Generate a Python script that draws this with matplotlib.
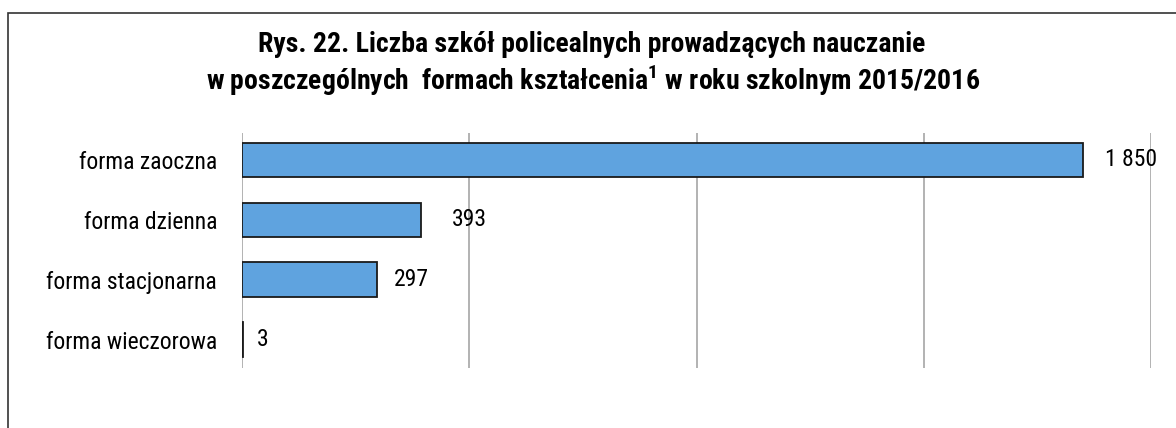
import matplotlib
matplotlib.use('Agg')
import matplotlib.pyplot as plt
from matplotlib.patches import Rectangle

# data
categories = ['forma zaoczna', 'forma dzienna', 'forma stacjonarna', 'forma wieczorowa']
values = [1850, 393, 297, 3]
value_labels = ['1 850', '393', '297', '3']
label_gap_px = [22, 31, 17, 14]

title_line1 = 'Rys. 22. Liczba szkół policealnych prowadzących nauczanie'
title_line2 = r'w poszczególnych  formach kształcenia$^{\mathbf{1}}$ w roku szkolnym 2015/2016'

font_list = ['Roboto Condensed', 'Liberation Sans', 'DejaVu Sans']
plt.rcParams['font.family'] = font_list
plt.rcParams['mathtext.fontset'] = 'custom'
plt.rcParams['mathtext.rm'] = 'Roboto Condensed'
plt.rcParams['mathtext.bf'] = 'Roboto Condensed:bold'

fig = plt.figure(figsize=(11.76, 4.28), dpi=100)
ax = fig.add_axes([242 / 1176, 1 - 368 / 428, (1151 - 242) / 1176, (368 - 133) / 428])

# outer frame (only left and top edges visible in the reference)
fig.patches.append(Rectangle((8 / 1176, -0.5), 1.5, 1.5 - 13 / 428,
                             transform=fig.transFigure, fill=False,
                             edgecolor='#333333', linewidth=1.2))

ypos = list(range(len(categories)))
ax.barh(ypos, values, height=0.58, color='#5fa3df', edgecolor='#1a1a1a',
        linewidth=1.3, zorder=3)

ax.set_xlim(0, 2000)
ax.set_ylim(3.47, -0.45)
ax.set_xticks([0, 500, 1000, 1500, 2000])
ax.xaxis.grid(True, color='#a6a6a6', linewidth=1.2, zorder=0)
ax.tick_params(axis='x', length=0, labelbottom=False)
ax.tick_params(axis='y', length=0, pad=18)
ax.set_yticks(ypos)
ax.set_yticklabels(categories, fontsize=17)
for s in ax.spines.values():
    s.set_visible(False)

for y, v, lab, gap in zip(ypos, values, value_labels, label_gap_px):
    ax.annotate(lab, (v, y), xytext=(gap * 0.72, 0), textcoords='offset points',
                va='center', ha='left', fontsize=17, zorder=4)

fig.text(0.503, 1 - 45 / 428, title_line1, ha='center', va='center',
         fontsize=20, fontweight='bold')
fig.text(0.504, 1 - 80 / 428, title_line2, ha='center', va='center',
         fontsize=20, fontweight='bold')

fig.savefig('out.png', dpi=100)
